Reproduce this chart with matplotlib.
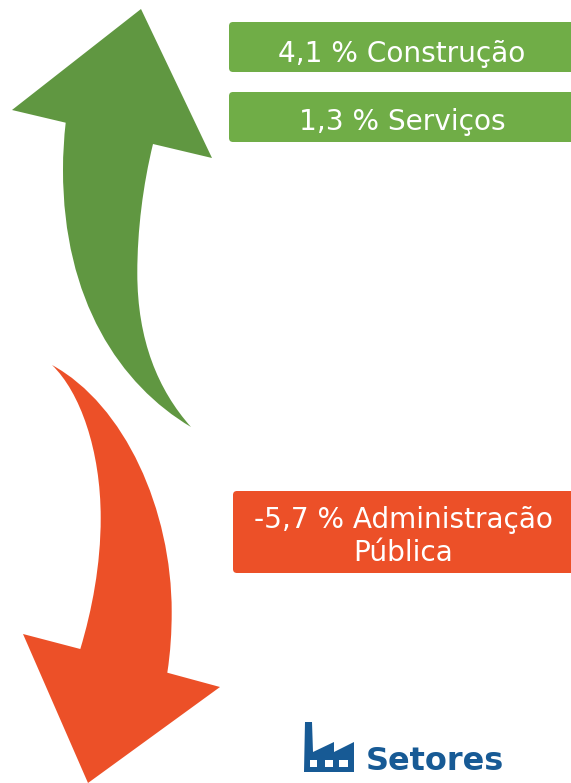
import matplotlib
matplotlib.use("Agg")
import matplotlib.pyplot as plt
from matplotlib.patches import FancyBboxPatch, PathPatch, Rectangle, Polygon
from matplotlib.path import Path

W, H = 571, 783
labels = ["4,1 % Construção", "1,3 % Serviços", "-5,7 % Administração\nPública"]
values = [4.1, 1.3, -5.7]
footer = "Setores"
GREEN_BOX = "#70AD47"
GREEN_ARROW = "#609741"
RED = "#EC5028"
BLUE = "#175A95"

fig = plt.figure(figsize=(W/100, H/100), dpi=100)
ax = fig.add_axes([0, 0, 1, 1])
ax.set_xlim(0, W); ax.set_ylim(H, 0); ax.axis("off")

def box(x0, y0, x1, y1, color):
    ax.add_patch(FancyBboxPatch((x0+3, y0+3), x1-x0-6, y1-y0-6, boxstyle="round,pad=3,rounding_size=4",
                                fc=color, ec="none"))

box(229, 22, 580, 72, GREEN_BOX)
box(229, 92, 580, 142, GREEN_BOX)
box(233, 491, 580, 573, RED)

font = ["Verdana", "DejaVu Sans"]
ax.text(402, 54, labels[0], color="white", fontsize=20.2, ha="center", va="center", family=font)
ax.text(402, 122.5, labels[1], color="white", fontsize=20.2, ha="center", va="center", family=font)
ax.text(403.5, 536.5, labels[2], color="white", fontsize=20.2, ha="center", va="center", family=font, linespacing=1.2)

M, L, C, Z = Path.MOVETO, Path.LINETO, Path.CURVE4, Path.CLOSEPOLY
up = [(141,9),(212,158),(153,144),
      (143,185),(137.3,230),(137.3,273),
      (137.3,340),(158,390),(191,427),
      (120,385),(63,300),(63,170),
      (63,153),(64,138),(65.7,122.7),
      (12,110),(141,9)]
up_c = [M,L,L,C,C,C,C,C,C,C,C,C,C,C,C,L,Z]
ax.add_patch(PathPatch(Path(up, up_c), fc=GREEN_ARROW, ec="none"))

down = [(52,365),
        (80,392),(100.7,450),(100.7,518),
        (100.7,565),(92,610),(80.3,649),
        (23,634),(88,783),(220,687),(167.3,672.7),
        (170.5,652),(171.7,632),(171.7,611.7),
        (171.7,510),(125,405),(52,365),
        (52,365)]
down_c = [M,C,C,C,C,C,C,L,L,L,L,C,C,C,C,C,C,Z]
ax.add_patch(PathPatch(Path(down, down_c), fc=RED, ec="none"))

# factory icon
ax.add_patch(Polygon([(304,772),(305,722),(312,722),(313,752),(334,742),(334,752),(354,742),(354,772)],
                     fc=BLUE, ec="none"))
for x0, x1 in ((310,317),(325,333),(339,348)):
    ax.add_patch(Rectangle((x0, 760), x1-x0, 7, fc="white", ec="none"))
ax.text(366, 761, footer, color=BLUE, fontsize=23, fontweight="bold", ha="left", va="center", family=font)

fig.savefig("out.png", dpi=100)
